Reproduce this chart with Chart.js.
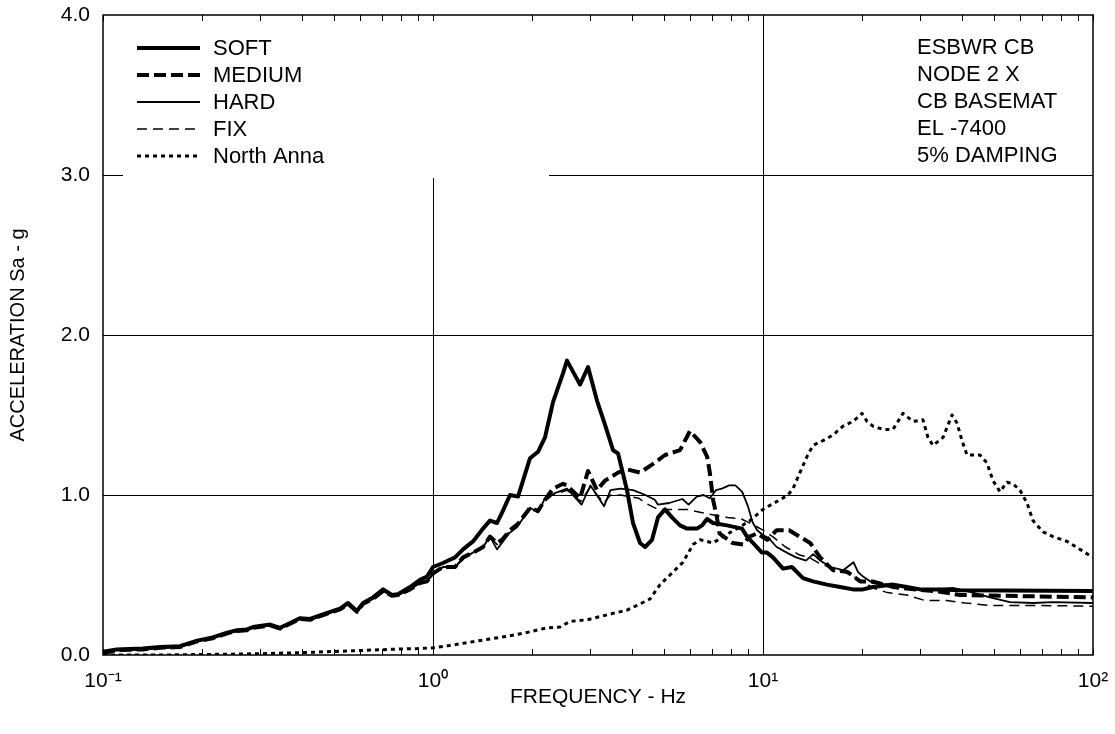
<!DOCTYPE html>
<html>
<head>
<meta charset="utf-8">
<script src="https://cdn.jsdelivr.net/npm/chart.js@4.4.1/dist/chart.umd.min.js"></script>
<style>
  html, body { margin: 0; padding: 0; background: #fff; }
  canvas { display: block; }
</style>
</head>
<body>
<canvas id="c" width="1115" height="734"></canvas>
<script>
// ---------------- DATA ----------------
const seriesNames = ['SOFT', 'MEDIUM', 'HARD', 'FIX', 'North Anna'];
const annotationLines = ['ESBWR CB', 'NODE 2 X', 'CB BASEMAT', 'EL -7400', '5% DAMPING'];
const xTickLabels = { 0.1: '10\u207B\u00B9', 1: '10\u2070', 10: '10\u00B9', 100: '10\u00B2' };
const yTickLabels = ['0.0', '1.0', '2.0', '3.0', '4.0'];

const softF = [0.1, 0.11, 0.132, 0.149, 0.171, 0.193, 0.215, 0.238, 0.255, 0.273, 0.285, 0.321, 0.344, 0.369, 0.395, 0.424, 0.488, 0.523, 0.553, 0.588, 0.614, 0.658, 0.706, 0.751, 0.783, 0.852, 0.913, 0.959, 1.0, 1.072, 1.166, 1.233, 1.322, 1.418, 1.488, 1.563, 1.619, 1.712, 1.81, 1.968, 2.081, 2.185, 2.31, 2.477, 2.547, 2.79, 2.95, 3.14, 3.32, 3.512, 3.637, 3.871, 4.037, 4.24, 4.391, 4.61, 4.807, 5.047, 5.299, 5.604, 5.884, 6.31, 6.534, 6.767, 7.055, 7.78, 8.638, 8.945, 9.327, 9.931, 10.28, 10.72, 11.5, 12.24, 13.22, 14.18, 15.63, 17.12, 18.74, 20.09, 21.54, 24.77, 27.32, 29.91, 34.39, 39.54, 100];
const softA = [0.02, 0.035, 0.04, 0.05, 0.055, 0.09, 0.11, 0.14, 0.155, 0.16, 0.175, 0.19, 0.17, 0.2, 0.23, 0.225, 0.27, 0.29, 0.325, 0.275, 0.325, 0.36, 0.41, 0.375, 0.38, 0.425, 0.47, 0.49, 0.55, 0.575, 0.61, 0.66, 0.71, 0.79, 0.84, 0.825, 0.89, 1.0, 0.99, 1.23, 1.27, 1.36, 1.58, 1.76, 1.84, 1.69, 1.8, 1.59, 1.44, 1.28, 1.26, 1.03, 0.825, 0.7, 0.675, 0.72, 0.86, 0.91, 0.86, 0.81, 0.79, 0.79, 0.81, 0.85, 0.825, 0.81, 0.79, 0.74, 0.7, 0.64, 0.64, 0.61, 0.54, 0.55, 0.48, 0.46, 0.44, 0.425, 0.41, 0.41, 0.425, 0.44, 0.425, 0.41, 0.41, 0.405, 0.4];

const mediumF = [0.1, 0.11, 0.132, 0.149, 0.171, 0.193, 0.215, 0.238, 0.255, 0.273, 0.285, 0.321, 0.344, 0.369, 0.395, 0.424, 0.488, 0.523, 0.553, 0.588, 0.614, 0.658, 0.706, 0.751, 0.783, 0.852, 0.913, 0.959, 1.0, 1.072, 1.166, 1.233, 1.322, 1.418, 1.488, 1.563, 1.619, 1.712, 1.81, 1.968, 2.081, 2.185, 2.31, 2.477, 2.547, 2.79, 2.95, 3.14, 3.32, 3.637, 3.871, 4.24, 4.61, 5.047, 5.604, 6.008, 6.45, 6.77, 6.9, 7.06, 7.25, 7.38, 7.6, 8.1, 8.7, 9.1, 9.6, 10.3, 11.0, 12.0, 12.9, 13.9, 14.9, 16.3, 18.0, 19.7, 21.5, 24.8, 29.0, 34.4, 39.5, 100];
const mediumA = [0.01, 0.03, 0.035, 0.045, 0.05, 0.085, 0.105, 0.135, 0.15, 0.155, 0.17, 0.185, 0.165, 0.195, 0.225, 0.22, 0.265, 0.285, 0.32, 0.27, 0.32, 0.35, 0.4, 0.37, 0.375, 0.41, 0.45, 0.46, 0.51, 0.55, 0.55, 0.61, 0.64, 0.675, 0.74, 0.7, 0.72, 0.78, 0.82, 0.92, 0.9, 0.97, 1.04, 1.07, 1.06, 0.98, 1.15, 1.03, 1.09, 1.14, 1.16, 1.14, 1.19, 1.25, 1.28, 1.4, 1.33, 1.24, 1.14, 0.97, 0.86, 0.76, 0.74, 0.7, 0.69, 0.74, 0.76, 0.72, 0.78, 0.78, 0.74, 0.7, 0.61, 0.53, 0.52, 0.46, 0.46, 0.425, 0.41, 0.395, 0.375, 0.36];

const hardF = [0.1, 0.11, 0.132, 0.149, 0.171, 0.193, 0.215, 0.238, 0.255, 0.273, 0.285, 0.321, 0.344, 0.369, 0.395, 0.424, 0.488, 0.523, 0.553, 0.588, 0.614, 0.658, 0.706, 0.751, 0.783, 0.852, 0.913, 0.959, 1.0, 1.072, 1.166, 1.233, 1.322, 1.418, 1.488, 1.563, 1.7, 1.8, 1.968, 2.081, 2.185, 2.33, 2.547, 2.82, 3.0, 3.3, 3.45, 3.7, 4.04, 4.4, 4.7, 4.8, 5.2, 5.7, 5.95, 6.3, 6.6, 6.9, 7.2, 7.5, 7.9, 8.25, 8.65, 9.0, 9.3, 9.6, 10.0, 10.4, 11.0, 11.8, 12.6, 13.5, 14.2, 14.9, 16.0, 17.5, 18.8, 19.4, 20.1, 21.5, 23.8, 25.5, 27.9, 32.7, 37.6, 43.3, 48.7, 56.0, 65.8, 75.6, 100];
const hardA = [0.01, 0.03, 0.035, 0.045, 0.05, 0.085, 0.105, 0.135, 0.15, 0.155, 0.17, 0.185, 0.165, 0.195, 0.225, 0.22, 0.265, 0.285, 0.32, 0.27, 0.32, 0.35, 0.4, 0.37, 0.375, 0.41, 0.45, 0.46, 0.51, 0.55, 0.55, 0.6, 0.64, 0.675, 0.74, 0.66, 0.76, 0.8, 0.92, 0.89, 0.98, 1.01, 1.04, 0.94, 1.06, 0.93, 1.03, 1.04, 1.03, 1.0, 0.97, 0.94, 0.95, 0.975, 0.94, 0.99, 1.0, 0.98, 1.03, 1.04, 1.06, 1.06, 1.02, 0.93, 0.83, 0.78, 0.75, 0.73, 0.675, 0.64, 0.61, 0.59, 0.63, 0.59, 0.55, 0.53, 0.58, 0.52, 0.49, 0.45, 0.44, 0.44, 0.41, 0.41, 0.42, 0.39, 0.36, 0.33, 0.325, 0.33, 0.325];

const fixF = [0.1, 0.11, 0.132, 0.149, 0.171, 0.193, 0.215, 0.238, 0.255, 0.273, 0.285, 0.321, 0.344, 0.369, 0.395, 0.424, 0.488, 0.523, 0.553, 0.588, 0.614, 0.658, 0.706, 0.751, 0.783, 0.852, 0.913, 0.959, 1.0, 1.072, 1.166, 1.233, 1.322, 1.418, 1.488, 1.563, 1.7, 1.8, 1.968, 2.081, 2.185, 2.3, 2.55, 2.8, 3.0, 3.3, 3.45, 3.7, 4.2, 4.4, 4.8, 5.9, 6.5, 7.1, 7.8, 8.6, 9.0, 9.6, 10.0, 10.7, 11.7, 12.9, 13.8, 14.6, 16.3, 18.0, 19.7, 21.5, 23.8, 27.3, 31.0, 36.0, 41.0, 48.7, 66.0, 100];
const fixA = [0.01, 0.03, 0.035, 0.045, 0.05, 0.085, 0.105, 0.135, 0.15, 0.155, 0.17, 0.185, 0.165, 0.195, 0.225, 0.22, 0.265, 0.285, 0.32, 0.27, 0.32, 0.35, 0.4, 0.37, 0.375, 0.41, 0.45, 0.46, 0.5, 0.55, 0.55, 0.61, 0.64, 0.675, 0.74, 0.69, 0.77, 0.81, 0.91, 0.9, 0.96, 1.0, 1.03, 0.96, 1.05, 0.95, 1.0, 1.0, 0.98, 0.95, 0.91, 0.91, 0.89, 0.875, 0.86, 0.85, 0.83, 0.8, 0.78, 0.74, 0.675, 0.625, 0.61, 0.58, 0.54, 0.51, 0.47, 0.42, 0.39, 0.375, 0.34, 0.34, 0.325, 0.31, 0.31, 0.305];

const annaF = [0.1, 0.15, 0.2, 0.3, 0.4, 0.5, 0.6, 0.7, 0.8, 0.9, 1.0, 1.127, 1.294, 1.488, 1.712, 1.968, 2.215, 2.426, 2.602, 2.929, 3.208, 3.512, 3.871, 4.151, 4.546, 4.875, 5.226, 5.723, 6.137, 6.444, 7.055, 7.565, 8.342, 9.134, 10.0, 10.28, 11.26, 11.9, 12.33, 12.94, 13.59, 14.18, 15.2, 16.3, 17.47, 18.74, 19.95, 20.66, 21.54, 23.1, 24.77, 26.02, 26.56, 28.48, 30.53, 31.62, 32.75, 35.12, 37.39, 38.71, 40.09, 41.51, 45.46, 47.73, 49.77, 52.26, 54.87, 57.22, 60.08, 63.1, 65.79, 70.55, 75.65, 83.41, 91.32, 100];
const annaA = [0.0, 0.0, 0.003, 0.008, 0.015, 0.022, 0.028, 0.033, 0.038, 0.04, 0.045, 0.06, 0.08, 0.1, 0.12, 0.145, 0.17, 0.175, 0.21, 0.22, 0.24, 0.26, 0.28, 0.31, 0.35, 0.44, 0.5, 0.58, 0.69, 0.72, 0.7, 0.74, 0.79, 0.84, 0.91, 0.925, 0.97, 1.0, 1.04, 1.14, 1.24, 1.31, 1.34, 1.375, 1.43, 1.46, 1.51, 1.46, 1.43, 1.41, 1.41, 1.48, 1.51, 1.46, 1.47, 1.36, 1.31, 1.36, 1.5, 1.45, 1.34, 1.25, 1.25, 1.2, 1.09, 1.02, 1.08, 1.07, 1.03, 0.95, 0.84, 0.77, 0.74, 0.71, 0.66, 0.61];

// ---------------- STYLE ----------------
const FONT = 'Liberation Sans, Arial, Helvetica, sans-serif';
const styles = [
  { w: 4,   dash: [] },
  { w: 4,   dash: [12, 5] },
  { w: 1.8, dash: [] },
  { w: 1.5, dash: [10, 6] },
  { w: 3,   dash: [4, 4] }
];
const allF = [softF, mediumF, hardF, fixF, annaF];
const allA = [softA, mediumA, hardA, fixA, annaA];

const datasets = seriesNames.map((name, i) => ({
  label: name,
  data: allF[i].map((f, k) => ({ x: f, y: allA[i][k] })),
  borderColor: '#000',
  borderWidth: styles[i].w,
  borderDash: styles[i].dash,
  borderCapStyle: 'butt',
  borderJoinStyle: 'round',
  pointRadius: 0,
  fill: false,
  tension: 0
}));

const xTickValues = [];
[0.1, 1, 10].forEach(d => { for (let k = 1; k <= 9; k++) xTickValues.push(+(k * d).toPrecision(3)); });
xTickValues.push(100);

const decor = {
  id: 'decor',
  beforeDatasetsDraw(chart) {
    const c = chart.ctx;
    c.save();
    c.fillStyle = '#fff';
    c.fillRect(123, 16, 426, 162);
    c.restore();
  },
  afterDraw(chart) {
    const c = chart.ctx, a = chart.chartArea, xs = chart.scales.x;
    c.save();
    c.strokeStyle = '#000';
    c.lineWidth = 1.5;
    c.strokeRect(a.left, a.top, a.right - a.left, a.bottom - a.top);
    c.lineWidth = 1;
    xTickValues.forEach(v => {
      const px = Math.round(xs.getPixelForValue(v)) + 0.5;
      c.beginPath();
      c.moveTo(px, a.bottom); c.lineTo(px, a.bottom - 6);
      c.moveTo(px, a.top); c.lineTo(px, a.top + 6);
      c.stroke();
    });
    c.fillStyle = '#000';
    c.font = '22px ' + FONT;
    c.textBaseline = 'middle';
    c.textAlign = 'left';
    seriesNames.forEach((n, i) => {
      const y = 48 + i * 27;
      c.beginPath();
      c.lineWidth = styles[i].w;
      c.setLineDash(styles[i].dash);
      c.lineCap = 'butt';
      c.moveTo(137, y); c.lineTo(200, y);
      c.stroke();
      c.setLineDash([]);
      c.fillText(n, 213, y + 1);
    });
    annotationLines.forEach((t, i) => {
      c.fillText(t, 917, 48 + i * 27);
    });
    c.restore();
  }
};

new Chart(document.getElementById('c'), {
  type: 'line',
  data: { datasets },
  options: {
    responsive: false,
    animation: false,
    devicePixelRatio: 1,
    layout: { padding: { top: 15, right: 22, left: 0, bottom: 0 } },
    plugins: { legend: { display: false }, tooltip: { enabled: false } },
    scales: {
      x: {
        type: 'logarithmic',
        min: 0.1, max: 100,
        afterFit: s => { s.height = 79; s.paddingLeft = 0; s.paddingRight = 0; },
        afterBuildTicks: s => { s.ticks = xTickValues.map(v => ({ value: v })); },
        ticks: {
          autoSkip: false, maxRotation: 0, minRotation: 0,
          color: '#000', font: { family: FONT, size: 21 }, padding: 14,
          callback: v => (xTickLabels[v] !== undefined ? xTickLabels[v] : '')
        },
        grid: {
          drawTicks: false,
          lineWidth: 1,
          color: ctx => (ctx.tick && (ctx.tick.value === 1 || ctx.tick.value === 10)) ? '#000' : 'rgba(0,0,0,0)'
        },
        border: { display: false },
        title: { display: true, text: 'FREQUENCY - Hz', color: '#000', font: { family: FONT, size: 21 }, padding: { top: 0, bottom: 24 } }
      },
      y: {
        min: 0, max: 4,
        afterFit: s => { s.width = 103; s.paddingTop = 0; s.paddingBottom = 0; },
        afterBuildTicks: s => { s.ticks = yTickLabels.map((t, i) => ({ value: i })); },
        ticks: {
          color: '#000', font: { family: FONT, size: 21 }, padding: 13,
          callback: (v) => yTickLabels[v]
        },
        grid: {
          drawTicks: false,
          lineWidth: 1,
          color: ctx => (ctx.tick && ctx.tick.value > 0 && ctx.tick.value < 4) ? '#000' : 'rgba(0,0,0,0)'
        },
        border: { display: false },
        title: { display: true, text: 'ACCELERATION Sa - g', color: '#000', font: { family: FONT, size: 20 }, padding: { top: 6, bottom: 0 } }
      }
    }
  },
  plugins: [decor]
});
</script>
</body>
</html>
